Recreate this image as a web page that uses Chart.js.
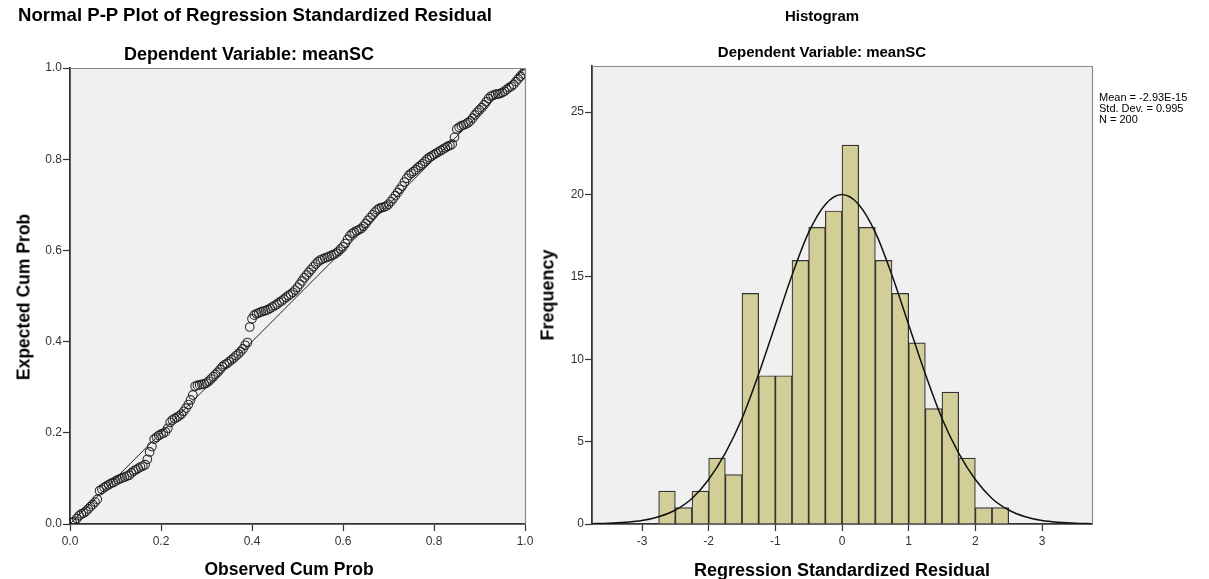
<!DOCTYPE html>
<html>
<head>
<meta charset="utf-8">
<script src="https://cdn.jsdelivr.net/npm/chart.js@4"></script>
<style>
  html, body { margin: 0; padding: 0; background: #fff; }
  body { width: 1209px; height: 579px; position: relative; overflow: hidden;
         font-family: Arial, 'Liberation Sans', sans-serif; color: #000; }
  canvas { position: absolute; top: 0; }
  .t { position: absolute; white-space: nowrap; font-weight: bold; transform: translate(-50%, -50%); }
  .rot { transform: translate(-50%, -50%) rotate(-90deg); }
  #stats { position: absolute; left: 1099px; top: 92px; font-size: 11px; line-height: 11px; white-space: nowrap; }
</style>
</head>
<body>
<canvas id="pp" width="540" height="579" style="left:0px"></canvas>
<canvas id="hist" width="669" height="579" style="left:540px"></canvas>

<div class="t" style="left:255px;top:15px;font-size:18.6px">Normal P-P Plot of Regression Standardized Residual</div>
<div class="t" style="left:249px;top:54px;font-size:18px">Dependent Variable: meanSC</div>
<div class="t rot" style="left:24px;top:297px;font-size:17.5px">Expected Cum Prob</div>
<div class="t" style="left:289px;top:569px;font-size:17.5px">Observed Cum Prob</div>

<div class="t" style="left:822px;top:15px;font-size:15px">Histogram</div>
<div class="t" style="left:822px;top:51px;font-size:15px">Dependent Variable: meanSC</div>
<div class="t rot" style="left:548px;top:295px;font-size:18px">Frequency</div>
<div class="t" style="left:842px;top:570px;font-size:18px">Regression Standardized Residual</div>
<div id="stats">Mean = -2.93E-15<br>Std. Dev. = 0.995<br>N = 200</div>

<script>
// ---------- P-P plot data ----------
const observedCumProb = [
  0.005,0.010,0.015,0.020,0.025,0.030,0.035,0.040,0.045,0.050,
  0.055,0.060,0.065,0.070,0.075,0.080,0.085,0.090,0.095,0.100,
  0.105,0.110,0.115,0.120,0.125,0.130,0.135,0.140,0.145,0.150,
  0.155,0.160,0.165,0.170,0.175,0.180,0.185,0.190,0.195,0.200,
  0.205,0.210,0.215,0.220,0.225,0.230,0.235,0.240,0.245,0.250,
  0.255,0.260,0.265,0.270,0.275,0.280,0.285,0.290,0.295,0.300,
  0.305,0.310,0.315,0.320,0.325,0.330,0.335,0.340,0.345,0.350,
  0.355,0.360,0.365,0.370,0.375,0.380,0.385,0.390,0.395,0.400,
  0.405,0.410,0.415,0.420,0.425,0.430,0.435,0.440,0.445,0.450,
  0.455,0.460,0.465,0.470,0.475,0.480,0.485,0.490,0.495,0.500,
  0.505,0.510,0.515,0.520,0.525,0.530,0.535,0.540,0.545,0.550,
  0.555,0.560,0.565,0.570,0.575,0.580,0.585,0.590,0.595,0.600,
  0.605,0.610,0.615,0.620,0.625,0.630,0.635,0.640,0.645,0.650,
  0.655,0.660,0.665,0.670,0.675,0.680,0.685,0.690,0.695,0.700,
  0.705,0.710,0.715,0.720,0.725,0.730,0.735,0.740,0.745,0.750,
  0.755,0.760,0.765,0.770,0.775,0.780,0.785,0.790,0.795,0.800,
  0.805,0.810,0.815,0.820,0.825,0.830,0.835,0.840,0.845,0.850,
  0.855,0.860,0.865,0.870,0.875,0.880,0.885,0.890,0.895,0.900,
  0.905,0.910,0.915,0.920,0.925,0.930,0.935,0.940,0.945,0.950,
  0.955,0.960,0.965,0.970,0.975,0.980,0.985,0.990,0.995,1.000
];
const expectedCumProb = [
  0.003,0.006,0.012,0.018,0.022,0.024,0.028,0.033,0.038,0.043,
  0.048,0.054,0.073,0.076,0.080,0.083,0.086,0.089,0.091,0.094,
  0.097,0.099,0.101,0.103,0.105,0.107,0.112,0.116,0.119,0.122,
  0.125,0.127,0.130,0.142,0.158,0.170,0.186,0.190,0.194,0.197,
  0.199,0.202,0.210,0.223,0.228,0.231,0.234,0.237,0.241,0.247,
  0.254,0.262,0.272,0.283,0.302,0.304,0.305,0.306,0.307,0.309,
  0.313,0.318,0.323,0.328,0.333,0.339,0.345,0.349,0.352,0.356,
  0.360,0.364,0.369,0.373,0.378,0.384,0.392,0.398,0.432,0.450,
  0.458,0.461,0.463,0.465,0.467,0.468,0.470,0.473,0.476,0.479,
  0.482,0.486,0.489,0.493,0.497,0.501,0.504,0.508,0.513,0.519,
  0.526,0.533,0.540,0.546,0.552,0.558,0.564,0.570,0.575,0.579,
  0.581,0.583,0.585,0.587,0.589,0.591,0.594,0.598,0.603,0.608,
  0.615,0.624,0.632,0.637,0.640,0.643,0.645,0.648,0.653,0.659,
  0.666,0.672,0.678,0.684,0.689,0.692,0.694,0.695,0.697,0.701,
  0.707,0.713,0.720,0.727,0.734,0.741,0.750,0.758,0.765,0.769,
  0.773,0.777,0.782,0.786,0.790,0.795,0.800,0.804,0.807,0.810,
  0.813,0.816,0.819,0.822,0.825,0.828,0.830,0.833,0.848,0.866,
  0.870,0.873,0.875,0.877,0.880,0.884,0.890,0.897,0.903,0.908,
  0.913,0.919,0.926,0.933,0.938,0.940,0.942,0.943,0.944,0.946,
  0.949,0.953,0.957,0.960,0.964,0.970,0.976,0.982,0.987,0.994
];
const refLineX = [0, 1];
const refLineY = [0, 1];
const ppTicks = [0, 0.2, 0.4, 0.6, 0.8, 1.0];

// ---------- Histogram data ----------
const binCenters = [-2.625,-2.375,-2.125,-1.875,-1.625,-1.375,-1.125,-0.875,-0.625,-0.375,-0.125,
                    0.125,0.375,0.625,0.875,1.125,1.375,1.625,1.875,2.125,2.375];
const frequencies = [2,1,2,4,3,14,9,9,16,18,19,23,18,16,14,11,7,8,4,1,1];
const curveX = [-3.75,-3.5,-3.25,-3,-2.75,-2.5,-2.25,-2,-1.75,-1.5,-1.25,-1,-0.75,-0.5,-0.25,0,
                0.25,0.5,0.75,1,1.25,1.5,1.75,2,2.25,2.5,2.75,3,3.25,3.5,3.75];
const curveY = [0.02,0.04,0.1,0.21,0.44,0.85,1.55,2.7,4.3,6.4,9.1,12.1,15.1,17.7,19.4,20.0,
                19.4,17.7,15.1,12.1,9.1,6.4,4.3,2.7,1.55,0.85,0.44,0.21,0.1,0.04,0.02];
const histXTicks = [-3,-2,-1,0,1,2,3];
const histYTicks = [0,5,10,15,20,25];

// ---------- shared styling ----------
Chart.defaults.font.family = "Arial, 'Liberation Sans', sans-serif";
Chart.defaults.animation = false;

const framePlugin = {
  id: 'frame',
  beforeDraw(chart) {
    const a = chart.chartArea, c = chart.ctx;
    c.save(); c.fillStyle = '#f0f0f0';
    c.fillRect(a.left, a.top, a.right - a.left, a.bottom - a.top);
    c.restore();
  },
  afterDraw(chart) {
    const a = chart.chartArea, c = chart.ctx;
    c.save(); c.strokeStyle = '#8a8a8a'; c.lineWidth = 1.2;
    c.beginPath();
    c.moveTo(a.left, a.top + 0.5); c.lineTo(a.right + 0.5, a.top + 0.5); c.lineTo(a.right + 0.5, a.bottom);
    c.stroke(); c.restore();
  }
};

function axis(min, max, tickValues, fmt, fitSize, isX) {
  return {
    type: 'linear', min, max, offset: false,
    grid: { drawOnChartArea: false, drawTicks: true, tickLength: 7, color: '#333', tickWidth: 1.2, offset: false },
    border: { display: true, color: '#333', width: 1.8 },
    ticks: { color: '#333', font: { size: 12 }, padding: isX ? 3 : 1, autoSkip: false, maxRotation: 0,
             callback: v => fmt(v) },
    afterBuildTicks: s => { s.ticks = tickValues.map(v => ({ value: v })); },
    afterFit: s => {
      if (isX) s.height = fitSize; else s.width = fitSize;
      s.paddingLeft = 0; s.paddingRight = 0; s.paddingTop = 0; s.paddingBottom = 0;
    }
  };
}

// ---------- P-P plot ----------
new Chart(document.getElementById('pp'), {
  type: 'scatter',
  data: {
    datasets: [
      { data: observedCumProb.map((x, i) => ({ x, y: expectedCumProb[i] })),
        pointStyle: 'circle', pointRadius: 4.3, borderColor: 'rgba(25,25,25,0.9)', borderWidth: 1.1,
        backgroundColor: 'rgba(0,0,0,0)', showLine: false },
      { data: refLineX.map((x, i) => ({ x, y: refLineY[i] })), type: 'line',
        borderColor: '#222', borderWidth: 1, pointRadius: 0, fill: false }
    ]
  },
  options: {
    responsive: false,
    layout: { padding: { left: 10, right: 15, top: 68, bottom: 5 } },
    plugins: { legend: { display: false }, tooltip: { enabled: false } },
    scales: {
      x: axis(0, 1, ppTicks, v => v.toFixed(1), 50, true),
      y: axis(0, 1, ppTicks, v => v.toFixed(1), 60, false)
    }
  },
  plugins: [framePlugin]
});

// ---------- Histogram ----------
new Chart(document.getElementById('hist'), {
  type: 'bar',
  data: {
    datasets: [
      { type: 'line', data: curveX.map((x, i) => ({ x, y: curveY[i] })),
        borderColor: '#111', borderWidth: 1.5, pointRadius: 0, cubicInterpolationMode: 'monotone', fill: false, order: 0 },
      { type: 'bar', data: binCenters.map((x, i) => ({ x, y: frequencies[i] })),
        backgroundColor: '#d3ce97', borderColor: '#333', borderWidth: 1.2, borderSkipped: 'bottom',
        barPercentage: 1, categoryPercentage: 1, order: 1 }
    ]
  },
  options: {
    responsive: false,
    layout: { padding: { left: 12, right: 117, top: 66, bottom: 5 } },
    plugins: { legend: { display: false }, tooltip: { enabled: false } },
    scales: {
      x: axis(-3.75, 3.75, histXTicks, v => String(v), 50, true),
      y: axis(0, 27.8, histYTicks, v => String(v), 40, false)
    }
  },
  plugins: [framePlugin]
});
</script>
</body>
</html>
